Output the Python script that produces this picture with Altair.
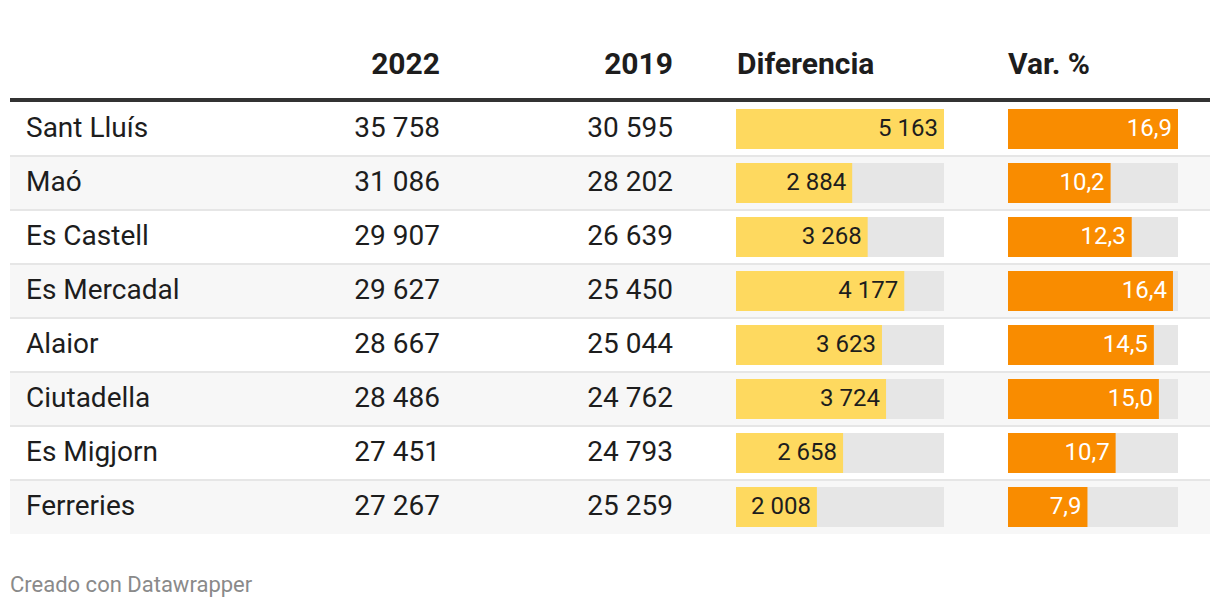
import altair as alt
import pandas as pd

cities = ["Sant Lluís", "Maó", "Es Castell", "Es Mercadal", "Alaior", "Ciutadella", "Es Migjorn", "Ferreries"]
v2022 = [35758, 31086, 29907, 29627, 28667, 28486, 27451, 27267]
v2019 = [30595, 28202, 26639, 25450, 25044, 24762, 24793, 25259]
diff = [5163, 2884, 3268, 4177, 3623, 3724, 2658, 2008]
varp = [16.9, 10.2, 12.3, 16.4, 14.5, 15.0, 10.7, 7.9]
headers = ["2022", "2019", "Diferencia", "Var. %"]
footer = "Creado con Datawrapper"

SP = " "
def fmt_int(v):
    return f"{v:,}".replace(",", SP)

df = pd.DataFrame({
    "city": cities,
    "v2022": v2022,
    "v2019": v2019,
    "diff": diff,
    "varp": varp,
})
df["idx"] = range(len(df))
df["t2022"] = [fmt_int(v) for v in v2022]
df["t2019"] = [fmt_int(v) for v in v2019]
df["tdiff"] = [fmt_int(v) for v in diff]
df["tvar"] = [f"{v:.1f}".replace(".", ",") for v in varp]
df["dmax"] = max(diff)
df["vmax"] = max(varp)
df["zero"] = 0

FONT = "Roboto"
BODY = 28
BAR = 24
W, H = 1204, 590
ROW_RANGE = [94, 526]

yband = alt.Y("city:N", sort=cities, axis=None,
              scale=alt.Scale(range=ROW_RANGE, paddingInner=0, paddingOuter=0))

base = alt.Chart(df)

row_bg = base.mark_rect().encode(
    y=yband,
    x=alt.value(2), x2=alt.value(1202),
    color=alt.Color("idx:O", legend=None,
                    scale=alt.Scale(domain=list(range(len(cities))),
                                    range=["#ffffff", "#f7f7f7"] * 4)),
)

sep = base.transform_filter("datum.idx > 0").mark_rule(color="#e6e6e6", strokeWidth=2).encode(
    y=alt.Y("city:N", sort=cities, axis=None, bandPosition=0,
            scale=alt.Scale(range=ROW_RANGE, paddingInner=0, paddingOuter=0)),
    x=alt.value(2), x2=alt.value(1202),
)

labels = base.mark_text(align="left", baseline="middle", font=FONT, fontSize=BODY, color="#1d1d1d").encode(
    y=yband, x=alt.value(18), text="city:N")

t22 = base.mark_text(align="right", baseline="middle", font=FONT, fontSize=BODY, color="#1d1d1d").encode(
    y=yband, x=alt.value(432), text="t2022:N")

t19 = base.mark_text(align="right", baseline="middle", font=FONT, fontSize=BODY, color="#1d1d1d").encode(
    y=yband, x=alt.value(665), text="t2019:N")

dscale = alt.Scale(domain=[0, max(diff)], range=[728, 936])
vscale = alt.Scale(domain=[0, max(varp)], range=[1000, 1170])

dbg = base.mark_bar(color="#e6e6e6", size=40).encode(
    y=yband, x=alt.X("zero:Q", scale=dscale, axis=None), x2="dmax:Q")
dbar = base.mark_bar(color="#fed95f", size=40).encode(
    y=yband, x=alt.X("zero:Q", scale=dscale, axis=None), x2="diff:Q")
dtext = base.mark_text(align="right", baseline="middle", dx=-6, font=FONT, fontSize=BAR, color="#1d1d1d").encode(
    y=yband, x=alt.X("diff:Q", scale=dscale, axis=None), text="tdiff:N")

vbg = base.mark_bar(color="#e6e6e6", size=40).encode(
    y=yband, x=alt.X("zero:Q", scale=vscale, axis=None), x2="vmax:Q")
vbar = base.mark_bar(color="#f98c00", size=40).encode(
    y=yband, x=alt.X("zero:Q", scale=vscale, axis=None), x2="varp:Q")
vtext = base.mark_text(align="right", baseline="middle", dx=-6, font=FONT, fontSize=BAR, color="#ffffff").encode(
    y=yband, x=alt.X("varp:Q", scale=vscale, axis=None), text="tvar:N")

hdr_df = pd.DataFrame({"h": headers})
hdr_base = alt.Chart(hdr_df)
def header(i, x, align):
    return hdr_base.transform_filter(alt.datum.h == headers[i]).mark_text(
        align=align, baseline="alphabetic", font=FONT, fontSize=30, fontWeight="bold", color="#1d1d1d"
    ).encode(x=alt.value(x), y=alt.value(66), text="h:N")

hdrs = [header(0, 432, "right"), header(1, 665, "right"), header(2, 729, "left"), header(3, 1000, "left")]

hline = alt.Chart(pd.DataFrame({"a": [0]})).mark_rule(color="#333333", strokeWidth=4).encode(
    x=alt.value(2), x2=alt.value(1202), y=alt.value(92))

foot = alt.Chart(pd.DataFrame({"f": [footer]})).mark_text(
    align="left", baseline="alphabetic", font=FONT, fontSize=22, color="#8a8a8a"
).encode(x=alt.value(2), y=alt.value(584), text="f:N")

chart = alt.layer(
    row_bg, sep, labels, t22, t19, dbg, dbar, dtext, vbg, vbar, vtext, *hdrs, hline, foot
).resolve_scale(x="independent", color="independent").properties(
    width=W, height=H, padding=0, autosize=alt.AutoSizeParams(type="none")
).configure_view(stroke=None)

chart.save("out.html", embed_options={"renderer": "svg", "actions": False})
